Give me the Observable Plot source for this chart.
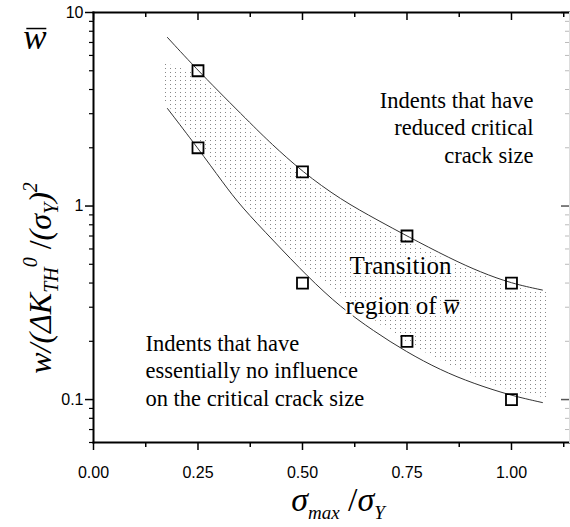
<!DOCTYPE html>
<html><head><meta charset="utf-8">
<script src="https://cdn.jsdelivr.net/npm/d3@7"></script>
<script src="https://cdn.jsdelivr.net/npm/@observablehq/plot@0.6"></script>
<style>
body{margin:0;background:#fff;}
#chart{position:relative;width:570px;height:527px;}
</style></head><body><div id="chart"></div>
<script>
// measured squares
const xPoints = [0.25, 0.50, 0.75, 1.00];
const upperPoints = [5.0, 1.5, 0.70, 0.40];
const lowerPoints = [2.0, 0.40, 0.20, 0.10];

// fitted curves
const upperCurveX = [0.177, 0.25, 0.376, 0.423, 0.50, 0.591, 0.682, 0.75, 0.854, 0.926, 1.00, 1.074];
const upperCurveY = [7.43, 5.0, 2.67, 2.12, 1.50, 1.08, 0.84, 0.70, 0.535, 0.455, 0.398, 0.368];
const lowerCurveX = [0.177, 0.249, 0.311, 0.352, 0.431, 0.512, 0.591, 0.670, 0.749, 0.830, 0.909, 0.998, 1.074];
const lowerCurveY = [3.19, 2.0, 1.31, 1.0, 0.66, 0.432, 0.30, 0.226, 0.176, 0.142, 0.121, 0.105, 0.0965];

// stippled transition region
const shadeX = [0.1675, 0.251, 0.3756, 0.50, 0.751, 1.00, 1.086];
const shadeTop = [5.45, 4.73, 2.51, 1.44, 0.663, 0.388, 0.357];
const shadeBottom = [3.51, 2.15, 0.95, 0.51, 0.198, 0.111, 0.102];

// ticks
const xMajor = [0, 0.25, 0.5, 0.75, 1.0];
const xTickLabels = ["0.00", "0.25", "0.50", "0.75", "1.00"];
const xMinor = [0.125, 0.375, 0.625, 0.875, 1.125];
const yMajor = [0.1, 1, 10];
const yTickLabels = ["0.1", "1", "10"];
const yMinor = [0.06, 0.07, 0.08, 0.09, 0.2, 0.3, 0.4, 0.5, 0.6, 0.7, 0.8, 0.9, 2, 3, 4, 5, 6, 7, 8, 9];

// annotations
const noteUpper = "Indents that have\nreduced critical\ncrack size";
const noteLower = "Indents that have\nessentially no influence\non the critical crack size";
const noteMid1 = "Transition";
const noteMid2 = "region of ";

const points = xPoints.flatMap((x, i) => [{x, y: upperPoints[i]}, {x, y: lowerPoints[i]}]);
const upper = upperCurveX.map((x, i) => ({x, y: upperCurveY[i]}));
const lower = lowerCurveX.map((x, i) => ({x, y: lowerCurveY[i]}));
const shade = shadeX.map((x, i) => ({x, y1: shadeBottom[i], y2: shadeTop[i]}));

const W = 570, H = 527, mL = 93, mR = 1, mT = 12, mB = 85;
const plotW = W - mL - mR, plotH = H - mT - mB;
const serif = "'Liberation Serif', 'Times New Roman', serif";

const svg = Plot.plot({
  width: W, height: H,
  marginLeft: mL, marginRight: mR, marginTop: mT, marginBottom: mB,
  x: {domain: [0, 1.1388]},
  y: {type: "log", domain: [0.06, 10]},
  style: {fontFamily: "'Liberation Sans', Arial, sans-serif", fontSize: "16px", color: "black", background: "white", overflow: "visible"},
  marks: [
    Plot.areaY(shade, {x: "x", y1: "y1", y2: "y2", fill: "url(#dots)", curve: "catmull-rom"}),
    Plot.line(upper, {x: "x", y: "y", stroke: "#333", strokeWidth: 1, curve: "basis"}),
    Plot.line(lower, {x: "x", y: "y", stroke: "#333", strokeWidth: 1, curve: "basis"}),
    Plot.dot(points, {x: "x", y: "y", symbol: "square", r: 6.2, stroke: "black", strokeWidth: 1.8, fill: "none"}),
    Plot.text([noteUpper], {x: 1.0526, y: 2.576, text: d => d, textAnchor: "end", fontFamily: serif, fontSize: 22.5, lineHeight: 1.22}),
    Plot.text([noteLower], {x: 0.1244, y: 0.143, text: d => d, textAnchor: "start", fontFamily: serif, fontSize: 22.5, lineHeight: 1.22}),
    Plot.text([noteMid1], {x: 0.7344, y: 0.4928, text: d => d, fontFamily: serif, fontSize: 25, stroke: "white", strokeWidth: 4, fill: "black"}),
    Plot.text([noteMid2], {x: 0.603, y: 0.303, text: d => d, textAnchor: "start", fontFamily: serif, fontSize: 25, stroke: "white", strokeWidth: 4, fill: "black", ariaLabel: () => "region-label"}),
    // axes
    Plot.axisX({ticks: xMajor, tickSize: 8, tickPadding: 16, tickFormat: d => xTickLabels[xMajor.indexOf(d)], strokeWidth: 1.5, label: null}),
    Plot.axisX({ticks: xMinor, tickSize: 5, tickFormat: () => "", strokeWidth: 1.5, label: null}),
    Plot.axisY({ticks: yMajor, tickSize: 8, tickPadding: 2, tickFormat: d => yTickLabels[yMajor.indexOf(d)], strokeWidth: 1.5, label: null}),
    Plot.axisY({ticks: yMinor, tickSize: 4, tickFormat: () => "", strokeWidth: 1.2, label: null}),
    // mirrored inward ticks on top and right
    Plot.tickX(xMajor, {x: d => d, insetBottom: plotH - 8, strokeWidth: 1.5}),
    Plot.tickX(xMinor, {x: d => d, insetBottom: plotH - 5, strokeWidth: 1.5}),
    Plot.tickY(yMajor, {y: d => d, insetLeft: plotW - 8, strokeWidth: 1.5, stroke: "#555"}),
    Plot.tickY(yMinor, {y: d => d, insetLeft: plotW - 4, strokeWidth: 1, stroke: "#bbb"}),
    Plot.frame({anchor: "left", strokeWidth: 2}),
    Plot.frame({anchor: "top", strokeWidth: 2}),
    Plot.frame({anchor: "bottom", strokeWidth: 2}),
    Plot.frame({anchor: "right", strokeWidth: 1, stroke: "#ddd"})
  ]
});
document.getElementById("chart").appendChild(svg);

const s = d3.select(svg);
const pat = s.insert("defs", ":first-child").append("pattern")
  .attr("id", "dots").attr("patternUnits", "userSpaceOnUse")
  .attr("width", 5).attr("height", 4);
pat.append("rect").attr("x", 0).attr("y", 0).attr("width", 1).attr("height", 1).attr("fill", "#888");

// italic w with bar after "region of"
const regionNode = s.select("text[aria-label='region-label']").node();
if (regionNode) {
  const before = regionNode.getBBox();
  const span = d3.select(regionNode).append("tspan").attr("font-style", "italic").text("w");
  const after = regionNode.getBBox();
  const x1 = before.x + before.width + 2, x2 = after.x + after.width - 1;
  const yBar = after.y + after.height * 0.30;
  d3.select(regionNode.parentNode).append("line")
    .attr("transform", regionNode.getAttribute("transform"))
    .attr("x1", x1).attr("x2", x2).attr("y1", yBar).attr("y2", yBar)
    .attr("stroke", "black").attr("stroke-width", 1.3);
}

// w-bar label at top-left
const wbar = s.append("text").attr("x", 35).attr("y", 49).attr("text-anchor", "middle")
  .attr("font-family", serif).attr("font-style", "italic").attr("font-size", 35).text("w");
{
  const b = wbar.node().getBBox();
  s.append("line").attr("x1", b.x + 3).attr("x2", b.x + b.width - 1)
    .attr("y1", b.y + b.height * 0.27).attr("y2", b.y + b.height * 0.27)
    .attr("stroke", "black").attr("stroke-width", 1.5);
}

// y-axis title
const yt = s.append("text").attr("transform", "translate(51,278) rotate(-90)")
  .attr("text-anchor", "middle").attr("font-family", serif).attr("font-style", "italic").attr("font-size", 32);
yt.append("tspan").text("w/(ΔK");
yt.append("tspan").attr("font-size", 20).attr("dy", 7).text("TH");
yt.append("tspan").attr("font-size", 20).attr("dy", -21).text("0");
yt.append("tspan").attr("dy", 14).attr("font-style", "normal").text(" /");
yt.append("tspan").text("(σ");
yt.append("tspan").attr("font-size", 20).attr("dy", 7).text("Y");
yt.append("tspan").attr("dy", -7).text(")");
yt.append("tspan").attr("font-size", 20).attr("dy", -14).text("2");

// x-axis title
const xt = s.append("text").attr("x", 338).attr("y", 511).attr("text-anchor", "middle")
  .attr("font-family", serif).attr("font-style", "italic").attr("font-size", 34);
xt.append("tspan").text("σ");
xt.append("tspan").attr("font-size", 19).attr("dy", 8).text("max");
xt.append("tspan").attr("dy", -8).attr("font-style", "normal").text(" /");
xt.append("tspan").text("σ");
xt.append("tspan").attr("font-size", 19).attr("dy", 8).text("Y");
</script></body></html>
